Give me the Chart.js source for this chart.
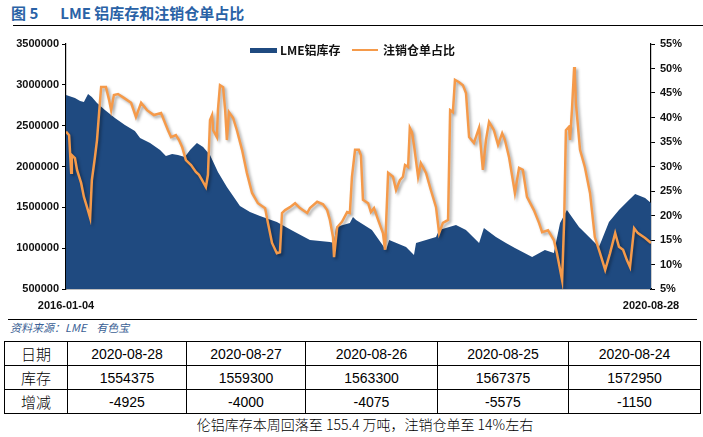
<!DOCTYPE html>
<html lang="zh">
<head>
<meta charset="utf-8" />
<title>LME 铝库存和注销仓单占比</title>
<script src="https://cdn.jsdelivr.net/npm/chart.js@4.4.0/dist/chart.umd.min.js"></script>
<style>
  body { margin: 0; width: 703px; height: 437px; background: #fff; position: relative; overflow: hidden;
         font-family: "Liberation Sans", "Noto Sans CJK SC", sans-serif; }
  .title { position: absolute; left: 11px; top: 2px; font: bold 15px "Noto Sans CJK SC", sans-serif; color: #2a62a6; }
  .title .num { margin-right: 22px; }
  .rule { position: absolute; height: 1px; background: #000; }
  #wrap { position: absolute; left: 0; top: 30px; width: 703px; height: 282px; }
  .legend { position: absolute; top: 41px; font: bold 12px "Noto Sans CJK SC", sans-serif; color: #111; }
  .legend span.box { position: absolute; }
  .src { position: absolute; left: 10px; top: 319px; font: italic 11px "Noto Sans CJK SC", sans-serif; color: #3b5f95; }
  table { position: absolute; left: 4px; top: 341px; border-collapse: collapse; width: 696px; table-layout: fixed; }
  td { border: 1px solid #000; height: 23px; padding: 0; text-align: center; font: 14px "Liberation Sans", sans-serif; color: #000; }
  td.h { font: 300 15px "Noto Sans CJK SC", sans-serif; }
  .cap { position: absolute; left: 0; width: 730px; top: 414px; text-align: center; font: 300 14px "Noto Sans CJK SC", sans-serif; color: #000; }
</style>
</head>
<body>
<div class="title"><span class="num">图 5</span>LME 铝库存和注销仓单占比</div>
<div class="rule" style="left:13px; top:25px; width:690px;"></div>

<div id="wrap"><canvas id="chart"></canvas></div>

<div class="legend" style="left:250px;">
  <span class="box" style="left:0; top:7px; width:27px; height:5px; background:#1f4a80;"></span>
  <span style="position:absolute; left:30px; top:0; white-space:nowrap;">LME铝库存</span>
</div>
<div class="legend" style="left:352px;">
  <span class="box" style="left:0; top:8px; width:26px; height:2px; background:#f59a4a;"></span>
  <span style="position:absolute; left:31px; top:0; white-space:nowrap;">注销仓单占比</span>
</div>

<div class="rule" style="left:8px; top:319px; width:689px;"></div>
<div class="src">资料来源：LME&nbsp;&nbsp;&nbsp;&nbsp;有色宝</div>

<table>
  <colgroup><col style="width:63px"><col style="width:119px"><col style="width:119px"><col style="width:132px"><col style="width:131px"><col style="width:132px"></colgroup>
  <tr><td class="h">日期</td><td>2020-08-28</td><td>2020-08-27</td><td>2020-08-26</td><td>2020-08-25</td><td>2020-08-24</td></tr>
  <tr><td class="h">库存</td><td>1554375</td><td>1559300</td><td>1563300</td><td>1567375</td><td>1572950</td></tr>
  <tr><td class="h">增减</td><td>-4925</td><td>-4000</td><td>-4075</td><td>-5575</td><td>-1150</td></tr>
</table>
<div class="cap">伦铝库存本周回落至 155.4 万吨，注销仓单至 14%左右</div>

<script>
// x = calendar days since 2016-01-04 (last point is 2020-08-28)
const startLabel = '2016-01-04';
const endLabel = '2020-08-28';
const lastDay = 1698;

const stockDay = [0, 26, 41, 52, 64, 75, 90, 113, 142, 171, 200, 215, 244, 273, 290, 308, 325, 345, 360, 380,
  398, 418, 441, 467, 505, 534, 563, 612, 659, 708, 766, 778, 784, 824, 833, 842, 888, 929, 938, 987,
  1010, 1016, 1074, 1083, 1132, 1161, 1199, 1213, 1248, 1277, 1303, 1353, 1390, 1416, 1434, 1454, 1489, 1527, 1547, 1576,
  1605, 1634, 1652, 1681, 1698];
const stockVal = [2875500, 2838800, 2802000, 2789800, 2887700, 2851000, 2777500, 2691800, 2593900, 2508200, 2434700, 2349000, 2287700, 2202000, 2128600, 2153000, 2140800, 2116300, 2202000, 2287700,
  2238800, 2140800, 1932600, 1749000, 1516300, 1442800, 1393900, 1320400, 1210200, 1100000, 1075500, 1063200, 1259200, 1308100, 1381600, 1344900, 1222400, 977500, 1100000, 1014300,
  916300, 1063200, 1136700, 1222400, 1283700, 1222400, 1063200, 1246900, 1136700, 1063200, 1002000, 891800, 977500, 940800, 1308100, 1467300, 1259200, 1100000, 1014300, 1320400,
  1467300, 1589800, 1663300, 1614300, 1554375];

const ratioDay = [0, 9, 15, 17, 26, 32, 44, 52, 61, 70, 75, 84, 90, 96, 102, 116, 125, 131, 139, 151,
  168, 189, 203, 218, 235, 255, 276, 284, 296, 305, 319, 328, 337, 348, 363, 377, 386, 395, 406, 412,
  418, 424, 427, 438, 441, 447, 456, 462, 467, 473, 485, 496, 511, 525, 540, 557, 578, 586, 598, 612,
  621, 627, 636, 650, 665, 679, 700, 708, 729, 746, 758, 766, 775, 778, 787, 801, 816, 824, 830, 839,
  850, 856, 862, 877, 885, 894, 906, 920, 926, 935, 949, 958, 969, 978, 984, 993, 998, 1004, 1010, 1022,
  1030, 1045, 1059, 1074, 1083, 1094, 1109, 1115, 1123, 1129, 1141, 1152, 1161, 1170, 1184, 1199, 1210, 1219, 1228, 1242,
  1254, 1266, 1274, 1286, 1297, 1303, 1315, 1326, 1338, 1358, 1373, 1382, 1399, 1416, 1425, 1440, 1446, 1451, 1460, 1463,
  1469, 1475, 1477, 1480, 1492, 1506, 1521, 1535, 1550, 1565, 1579, 1594, 1605, 1617, 1628, 1637, 1649, 1660, 1681, 1698];
const ratioVal = [37.1, 36.4, 28.7, 32.3, 31.7, 29.3, 26.6, 23.8, 21.7, 19.5, 27.2, 31.9, 35.4, 40.9, 46.2, 46.2, 43.6, 41.5, 44.6, 44.8,
  44.0, 43.0, 40.1, 43.0, 41.5, 40.5, 40.9, 39.5, 37.4, 36.0, 36.4, 35.4, 34.0, 31.3, 30.3, 28.9, 28.3, 27.2, 25.8, 28.3,
  39.5, 40.5, 37.4, 36.0, 41.5, 46.6, 46.2, 41.5, 35.4, 41.1, 39.9, 37.4, 33.4, 28.7, 24.6, 22.5, 21.5, 18.5, 14.4, 12.3,
  12.5, 20.5, 21.1, 21.7, 22.5, 21.5, 20.5, 21.5, 22.8, 22.3, 21.1, 19.1, 15.6, 11.5, 17.6, 18.7, 20.7, 20.5, 27.9, 33.4,
  33.4, 32.3, 23.2, 22.5, 20.7, 21.5, 19.1, 16.4, 13.0, 28.7, 27.9, 25.2, 27.2, 27.9, 30.3, 29.9, 37.9, 37.0, 34.4, 27.9,
  30.7, 28.7, 25.2, 21.7, 16.4, 18.5, 19.1, 41.5, 41.1, 47.7, 47.2, 46.6, 45.0, 36.0, 34.8, 37.9, 29.3, 35.4, 39.1, 37.4,
  34.4, 36.8, 35.4, 31.9, 27.2, 24.6, 29.7, 29.3, 23.8, 21.1, 18.5, 16.6, 17.0, 15.0, 12.3, 6.8, 19.1, 37.4, 38.1, 35.4,
  42.1, 50.3, 48.7, 43.0, 33.4, 29.9, 24.6, 15.6, 12.3, 8.9, 12.3, 16.4, 13.6, 13.0, 10.9, 9.5, 17.4, 16.4, 15.4, 14.4];

const tickFont = { family: 'Liberation Sans', size: 11, weight: 'bold' };

// drop shadow under the orange line
const lineShadow = {
  id: 'lineShadow',
  beforeDatasetDraw(chart, args) {
    if (args.index !== 1) return;
    const ctx = chart.ctx;
    ctx.save();
    ctx.shadowColor = 'rgba(0,0,0,0.35)';
    ctx.shadowBlur = 3;
    ctx.shadowOffsetX = 2;
    ctx.shadowOffsetY = 2;
  },
  afterDatasetDraw(chart, args) {
    if (args.index !== 1) return;
    chart.ctx.restore();
  }
};

new Chart(document.getElementById('chart'), {
  type: 'line',
  data: {
    datasets: [{
      label: 'LME铝库存',
      data: stockDay.map((d, i) => ({ x: d, y: stockVal[i] })),
      yAxisID: 'y',
      borderWidth: 0,
      backgroundColor: '#1f4a80',
      fill: 'start',
      pointRadius: 0,
      tension: 0,
      order: 2
    }, {
      label: '注销仓单占比',
      data: ratioDay.map((d, i) => ({ x: d, y: ratioVal[i] })),
      yAxisID: 'y1',
      borderColor: '#f59a4a',
      borderWidth: 2.5,
      fill: false,
      pointRadius: 0,
      tension: 0,
      order: 1
    }]
  },
  options: {
    responsive: true,
    maintainAspectRatio: false,
    animation: false,
    layout: { padding: { top: 14, left: 0, right: 0, bottom: 0 } },
    plugins: { legend: { display: false }, tooltip: { enabled: false } },
    scales: {
      x: {
        type: 'linear',
        min: 0,
        max: lastDay,
        afterBuildTicks: (scale) => { scale.ticks = [{ value: 0 }, { value: lastDay }]; },
        afterFit: (scale) => { scale.height = 23; },
        ticks: {
          color: '#111',
          font: tickFont,
          padding: 2,
          maxRotation: 0,
          autoSkip: false,
          callback: (v) => v === 0 ? startLabel : endLabel
        },
        grid: { display: false },
        border: { color: '#000', width: 1.2 }
      },
      y: {
        position: 'left',
        min: 500000,
        max: 3500000,
        afterFit: (scale) => { scale.width = 66; },
        ticks: { stepSize: 500000, color: '#111', font: tickFont, padding: 3, callback: (v) => String(v) },
        grid: { drawOnChartArea: false, drawTicks: true, tickLength: 4, color: '#000' },
        border: { color: '#000', width: 1.2 }
      },
      y1: {
        position: 'right',
        min: 5,
        max: 55,
        afterFit: (scale) => { scale.width = 52; },
        ticks: { stepSize: 5, color: '#111', font: tickFont, padding: 5, callback: (v) => v + '%' },
        grid: { drawOnChartArea: false, drawTicks: true, tickLength: 4, color: '#000' },
        border: { color: '#000', width: 1.2 }
      }
    }
  },
  plugins: [lineShadow]
});
</script>
</body>
</html>
